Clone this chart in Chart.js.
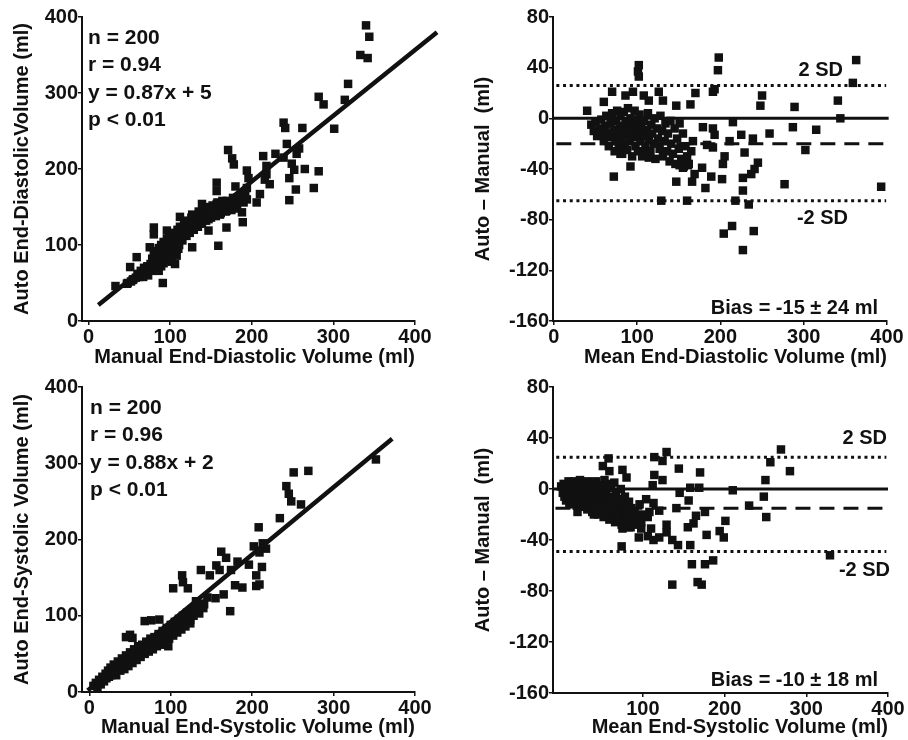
<!DOCTYPE html>
<html>
<head>
<meta charset="utf-8">
<script src="https://cdn.jsdelivr.net/npm/chart.js@4.4.0/dist/chart.umd.min.js"></script>
<style>
  html, body { margin: 0; padding: 0; background: #fff; }
  #wrap { position: relative; width: 908px; height: 740px; }
  canvas { position: absolute; }
</style>
</head>
<body>
<div id="wrap">
  <canvas id="edv" width="454" height="370" style="left:0;top:0"></canvas>
  <canvas id="edvDiff" width="454" height="370" style="left:454px;top:0"></canvas>
  <canvas id="esv" width="454" height="370" style="left:0;top:370px"></canvas>
  <canvas id="esvDiff" width="454" height="370" style="left:454px;top:370px"></canvas>
</div>
<script>
// [manual, auto] end-diastolic volume (ml)
const edvPairs = [
  [433,358],[340,389],[344,374],[333,350],[342,346],[318,312],[314,291],[282,295],[288,285],[301,253],
  [239,261],[241,254],[262,254],[243,233],[258,227],[255,220],[229,220],[214,217],[239,215],[249,207],
  [252,199],[265,200],[282,197],[246,188],[222,180],[254,173],[276,175],[246,159],[210,167],[206,156],
  [218,204],[218,193],[216,186],[194,198],[196,188],[194,175],[194,160],[188,143],[189,130],[171,225],
  [176,214],[178,206],[180,177],[157,182],[157,171],[180,154],[174,149],[157,154],[139,154],[169,123],
  [159,99],[147,119],[137,140],[127,140],[112,137],[127,97],[116,114],[96,119],[80,123],[80,114],
  [75,97],[59,84],[51,71],[33,46],[47,49],[54,54],[91,50],[106,75],[108,86],[110,95],
  [67,58],[71,67],[147,134],[161,140],[169,145],
  [48,50],[52,52],[55,55],[58,57],[60,62],[62,58],[64,66],[66,62],[68,70],[70,64],[72,72],[73,60],[74,68],
  [76,75],[77,66],[78,82],[79,72],[80,88],[81,78],[82,70],[83,92],[84,84],[85,76],[86,96],[86,66],
  [87,88],[88,80],[89,100],[89,72],[90,92],[91,84],[92,76],[92,104],[93,96],[94,88],[95,80],[96,108],
  [96,100],[97,92],[98,84],[99,112],[100,104],[100,96],[101,88],[102,78],[103,108],[104,100],[105,92],
  [106,116],[107,104],[108,96],[109,120],[110,110],[111,100],[112,124],
  [114,116],[115,106],[117,128],[118,120],[120,112],[121,132],[122,124],[124,116],[126,136],[127,128],
  [129,120],[130,138],[132,130],[134,124],[135,144],[137,134],[139,128],[140,148],[142,140],[144,132],
  [146,150],[148,142],[150,136],[152,152],[154,144],[156,138],[158,156],[160,148],[162,142],[164,158],
  [166,150],[168,144],[170,158],[172,152],[175,146],[177,162],[180,154],[182,148],[185,160],[188,166],
  [190,156],[192,170]
];
// [mean, auto - manual] end-diastolic
const edvDiff = [
  [40,6],[393,-54],[363,46],[359,28],[341,14],[344,0],[315,-9],[302,-25],[277,-52],[289,9],
  [287,-7],[259,-12],[250,18],[248,10],[240,-89],[227,-104],[214,-85],[204,-91],[218,-65],[234,-68],
  [227,-57],[227,-47],[237,-44],[245,-35],[241,-40],[239,-16],[225,-13],[229,-27],[215,-3],[211,-18],
  [205,-30],[203,-36],[202,-48],[198,48],[197,38],[191,21],[193,23],[191,-8],[193,-13],[191,-23],
  [189,-46],[182,-55],[179,-7],[184,-21],[178,-39],[166,-50],[160,-65],[170,20],[164,11],[147,-50],
  [129,-65],[147,10],[131,14],[126,21],[114,14],[108,18],[101,37],[102,42],[102,33],[95,21],
  [86,18],[70,21],[72,-46],[60,13],[92,-38],[114,-31],[107,-28],[80,-28],[169,-44],[155,-39],
  [161,-37],[151,-37],
  [45,-5],[48,-10],[50,-3],[52,-14],[55,-8],[57,-1],[58,-12],[60,-18],[62,-6],[63,2],[65,-12],[66,-22],
  [68,-4],[69,-15],[70,4],[72,-9],[73,-26],[74,-18],[75,-2],[76,6],[77,-12],[78,-22],[79,-6],[80,2],
  [81,-16],[82,-28],[83,-9],[84,5],[85,-20],[86,-3],[87,-13],[88,-25],[89,8],[90,-7],[91,-18],[92,0],
  [93,-11],[94,-30],[95,-4],[96,-15],[97,6],[98,-22],[99,-8],[100,-1],[101,-26],[102,-12],[103,3],
  [104,-18],[105,-7],[106,-30],[108,-2],[109,-14],[110,-22],[112,-9],[113,4],[114,-17],[116,-26],
  [117,-5],[118,-12],[120,-20],[121,0],[122,-32],[124,-8],[125,-16],[127,-24],[128,2],[130,-10],
  [131,-30],[133,-18],[134,-4],[136,-26],[137,-12],[139,-34],[140,-2],[141,-20],[143,-28],[145,-8],
  [146,-36],[148,-16],[150,-24],[151,-4],[153,-32],[155,-12],[156,-38],[158,-22],[160,-30],[162,-36],
  [165,-26],[167,-18]
];
// [manual, auto] end-systolic volume (ml)
const esvPairs = [
  [352,305],[251,288],[269,290],[242,270],[245,260],[248,250],[260,246],[234,228],[208,216],[202,191],
  [213,195],[217,188],[209,183],[196,167],[212,164],[205,153],[209,141],[205,139],[188,137],[179,140],
  [162,184],[168,176],[182,171],[156,166],[160,160],[174,160],[148,153],[137,160],[114,153],[115,144],
  [121,136],[103,136],[173,106],[165,128],[155,123],[145,124],[141,115],[135,103],[124,95],[131,119],
  [97,60],[68,93],[76,94],[86,95],[45,72],[50,75],[53,71],[88,75],
  [5,8],[8,12],[10,6],[12,16],[14,10],[15,15],[16,20],[18,14],[20,24],[21,18],[23,28],[24,20],[25,25],
  [26,32],[27,22],[29,26],[30,36],[32,28],[33,22],[35,40],[35,33],[36,32],[38,28],[40,44],[41,36],
  [43,30],[45,48],[45,42],[46,40],[48,34],[50,52],[51,44],[53,38],[55,56],[55,50],[56,48],[58,42],
  [60,60],[61,52],[63,46],[65,62],[65,58],[66,55],[68,50],[70,66],[71,58],[73,53],[75,70],[75,66],
  [76,62],[78,56],[80,72],[81,66],[83,60],[85,76],[85,72],[86,68],[88,62],[90,80],[91,72],[93,66],
  [95,84],[95,80],[96,76],[98,70],[100,88],[101,80],[103,74],[105,92],[105,88],[106,84],[108,78],
  [110,96],[111,88],[113,82],[115,100],[116,92],[118,86],[120,104],[122,96],[124,90],[126,108],
  [128,100],[130,112],[133,104],[136,116],[140,110]
];
// [mean, auto - manual] end-systolic
const esvDiff = [
  [329,-52],[269,31],[280,14],[256,21],[250,7],[248,-6],[251,-22],[230,-13],[210,-1],[201,-25],
  [199,-38],[194,-33],[186,-56],[176,-59],[178,-36],[172,-75],[167,-73],[170,13],[169,1],[176,-18],
  [165,-21],[160,-59],[158,-44],[162,-27],[155,-30],[156,-9],[158,1],[136,-75],[144,16],[145,-3],
  [141,-15],[143,-44],[136,-40],[129,-28],[129,-34],[120,-38],[113,-40],[110,-31],[113,-11],[112,3],
  [114,11],[114,25],[124,22],[129,29],[124,7],[120,-17],[108,-18],[106,-37],[98,-31],[95,-38],
  [83,-30],[74,-45],[75,-31],[75,15],[80,9],[58,24],[51,18],[59,14],[20,-18],[40,-20],[55,-19],
  [0,2],[2,-3],[3,4],[4,-6],[5,0],[6,-9],[7,3],[8,-4],[9,6],[10,-12],[11,1],[12,-7],[13,4],[14,-2],
  [15,-10],[16,6],[17,-5],[18,1],[19,-13],[20,4],[21,-8],[22,-2],[23,7],[24,-11],[25,2],[26,-5],
  [27,-14],[28,5],[29,-3],[30,-9],[31,1],[32,-16],[33,6],[34,-6],[35,-1],[36,-12],[37,4],[38,-18],
  [39,-4],[40,2],[41,-9],[42,-14],[43,6],[44,-2],[45,-20],[46,-7],[47,3],[48,-12],[49,-16],[50,0],
  [51,-5],[52,-22],[53,7],[54,-10],[55,-3],[56,-18],[57,4],[58,-13],[59,-24],[60,-6],[61,1],[62,-16],
  [63,-20],[64,-9],[65,5],[66,-26],[67,-3],[68,-14],[69,-22],[70,-8],[72,-18],[73,0],[74,-28],
  [75,-12],[76,-24],[78,-6],[79,-16],[80,-26],[82,-20],[83,-10],[85,-30],[86,-15],[88,-24],[90,-18],
  [92,-28],[94,-22],[96,-12],[98,-26],[100,-20],[104,-8],[106,-22]
];

// regression lines (endpoints)
const edvFitX = [12, 427];
const edvFitY = [21, 380];
const esvFitX = [-2, 372];
const esvFitY = [2, 332];

// Bland-Altman reference lines
const edvZeroX = [-1, 402], edvZeroY = [0, 0];
const edvBiasX = [3, 402], edvBiasY = [-20, -20];
const edvSdX = [3, 399], edvUpperY = [26, 26], edvLowerY = [-65, -65];
const esvZeroX = [-9, 400], esvZeroY = [0, 0];
const esvBiasX = [-7, 400], esvBiasY = [-15, -15];
const esvSdX = [-6, 398], esvUpperY = [25, 25], esvLowerY = [-49, -49];

// tick labels
const volTicks = [0, 100, 200, 300, 400];
const meanEsvTicks = [100, 200, 300, 400];

const ink = '#111';
const fontFam = '"Liberation Sans", Arial, sans-serif';

Chart.defaults.font.family = fontFam;
Chart.defaults.font.weight = 'bold';
Chart.defaults.color = ink;

const toXY = arr => arr.map(p => ({x: p[0], y: p[1]}));
const toLine = (xs, ys) => xs.map((x, i) => ({x: x, y: ys[i]}));

const pointSet = (arr) => ({
  data: toXY(arr),
  pointStyle: 'rect',
  pointRadius: 6,
  pointBorderWidth: 0,
  backgroundColor: ink,
  borderColor: ink,
  clip: false
});
const lineSet = (xs, ys, width, dash) => ({
  data: toLine(xs, ys),
  showLine: true,
  pointRadius: 0,
  borderColor: ink,
  borderWidth: width,
  borderDash: dash || [],
  clip: false
});

// draws free text on the panel
const textPlugin = (items) => ({
  id: 'panelText',
  afterDraw(chart) {
    const ctx = chart.ctx;
    ctx.save();
    ctx.fillStyle = ink;
    ctx.textBaseline = 'middle';
    items.forEach(it => {
      ctx.font = 'bold ' + (it.size || 20) + 'px ' + fontFam;
      ctx.textAlign = it.align || 'left';
      ctx.fillText(it.text, it.x, it.y);
    });
    ctx.restore();
  }
});

const axis = (o) => ({
  type: 'linear',
  min: o.min,
  max: o.max,
  afterBuildTicks: o.ticks ? (s) => { s.ticks = o.ticks.map(v => ({value: v})); } : undefined,
  afterFit: o.fit,
  border: {display: true, color: ink, width: 2},
  grid: {display: true, drawOnChartArea: false, drawTicks: true, tickLength: 4, color: ink, lineWidth: 1.5},
  ticks: {color: ink, font: {size: 20, weight: 'bold'}, padding: 0, stepSize: o.step, maxRotation: 0},
  title: {display: true, text: o.title, color: ink, align: o.align || 'center',
          font: {size: 20, weight: 'bold'}, padding: o.pad}
});

function makePanel(id, datasets, x, y, padRight, texts) {
  new Chart(document.getElementById(id), {
    type: 'scatter',
    data: {datasets: datasets},
    options: {
      responsive: false,
      animation: false,
      layout: {padding: {top: 17, right: padRight, left: 0, bottom: 0}},
      plugins: {legend: {display: false}, tooltip: {enabled: false}},
      scales: {x: axis(x), y: axis(y)}
    },
    plugins: [textPlugin(texts)]
  });
}

makePanel('edv',
  [pointSet(edvPairs), lineSet(edvFitX, edvFitY, 4.5)],
  {min: -8, max: 400, ticks: volTicks, title: 'Manual End-Diastolic Volume (ml)', align: 'end', pad: {top: 0, bottom: 1}, fit: s => { s.height = 49; }},
  {min: 0, max: 400, step: 100, title: 'Auto End-DiastolicVolume (ml)', pad: {top: 10, bottom: 0}, fit: s => { s.width = 82; }},
  39,
  [{text: 'n = 200', x: 88, y: 38, size: 21}, {text: 'r = 0.94', x: 88, y: 65.5, size: 21},
   {text: 'y = 0.87x + 5', x: 88, y: 93, size: 21}, {text: 'p < 0.01', x: 88, y: 120.5, size: 21}]
);

makePanel('edvDiff',
  [pointSet(edvDiff), lineSet(edvZeroX, edvZeroY, 3), lineSet(edvBiasX, edvBiasY, 3, [15, 9]),
   lineSet(edvSdX, edvUpperY, 3, [3, 3.7]), lineSet(edvSdX, edvLowerY, 3, [3, 3.7])],
  {min: -1, max: 400, ticks: volTicks, title: 'Mean End-Diastolic Volume (ml)', align: 'end', pad: {top: 0, bottom: 1}, fit: s => { s.height = 49; }},
  {min: -160, max: 80, step: 40, title: 'Auto \u2013 Manual  (ml)', pad: {top: 17, bottom: 0}, fit: s => { s.width = 99; }},
  21,
  [{text: '2 SD', x: 389, y: 70, align: 'right'}, {text: '-2 SD', x: 394, y: 218, align: 'right'},
   {text: 'Bias = -15 \u00b1 24 ml', x: 424, y: 308, align: 'right'}]
);

makePanel('esv',
  [pointSet(esvPairs), lineSet(esvFitX, esvFitY, 4.5)],
  {min: -9, max: 400, ticks: volTicks, title: 'Manual End-Systolic Volume (ml)', align: 'end', pad: {top: 0, bottom: 1}, fit: s => { s.height = 48; }},
  {min: 0, max: 400, step: 100, title: 'Auto End-Systolic Volume (ml)', pad: {top: 10, bottom: 0}, fit: s => { s.width = 82; }},
  39,
  [{text: 'n = 200', x: 90, y: 38, size: 21}, {text: 'r = 0.96', x: 90, y: 65, size: 21},
   {text: 'y = 0.88x + 2', x: 90, y: 93, size: 21}, {text: 'p < 0.01', x: 90, y: 120, size: 21}]
);

makePanel('esvDiff',
  [pointSet(esvDiff), lineSet(esvZeroX, esvZeroY, 3), lineSet(esvBiasX, esvBiasY, 3, [15, 9]),
   lineSet(esvSdX, esvUpperY, 3, [3, 3.7]), lineSet(esvSdX, esvLowerY, 3, [3, 3.7])],
  {min: -10, max: 400, ticks: meanEsvTicks, title: 'Mean End-Systolic Volume (ml)', align: 'end', pad: {top: 0, bottom: 1}, fit: s => { s.height = 47; }},
  {min: -160, max: 80, step: 40, title: 'Auto \u2013 Manual  (ml)', pad: {top: 17, bottom: 0}, fit: s => { s.width = 99; }},
  20,
  [{text: '2 SD', x: 433, y: 68, align: 'right'}, {text: '-2 SD', x: 436, y: 200, align: 'right'},
   {text: 'Bias = -10 \u00b1 18 ml', x: 424, y: 310, align: 'right'}]
);
</script>
</body>
</html>
